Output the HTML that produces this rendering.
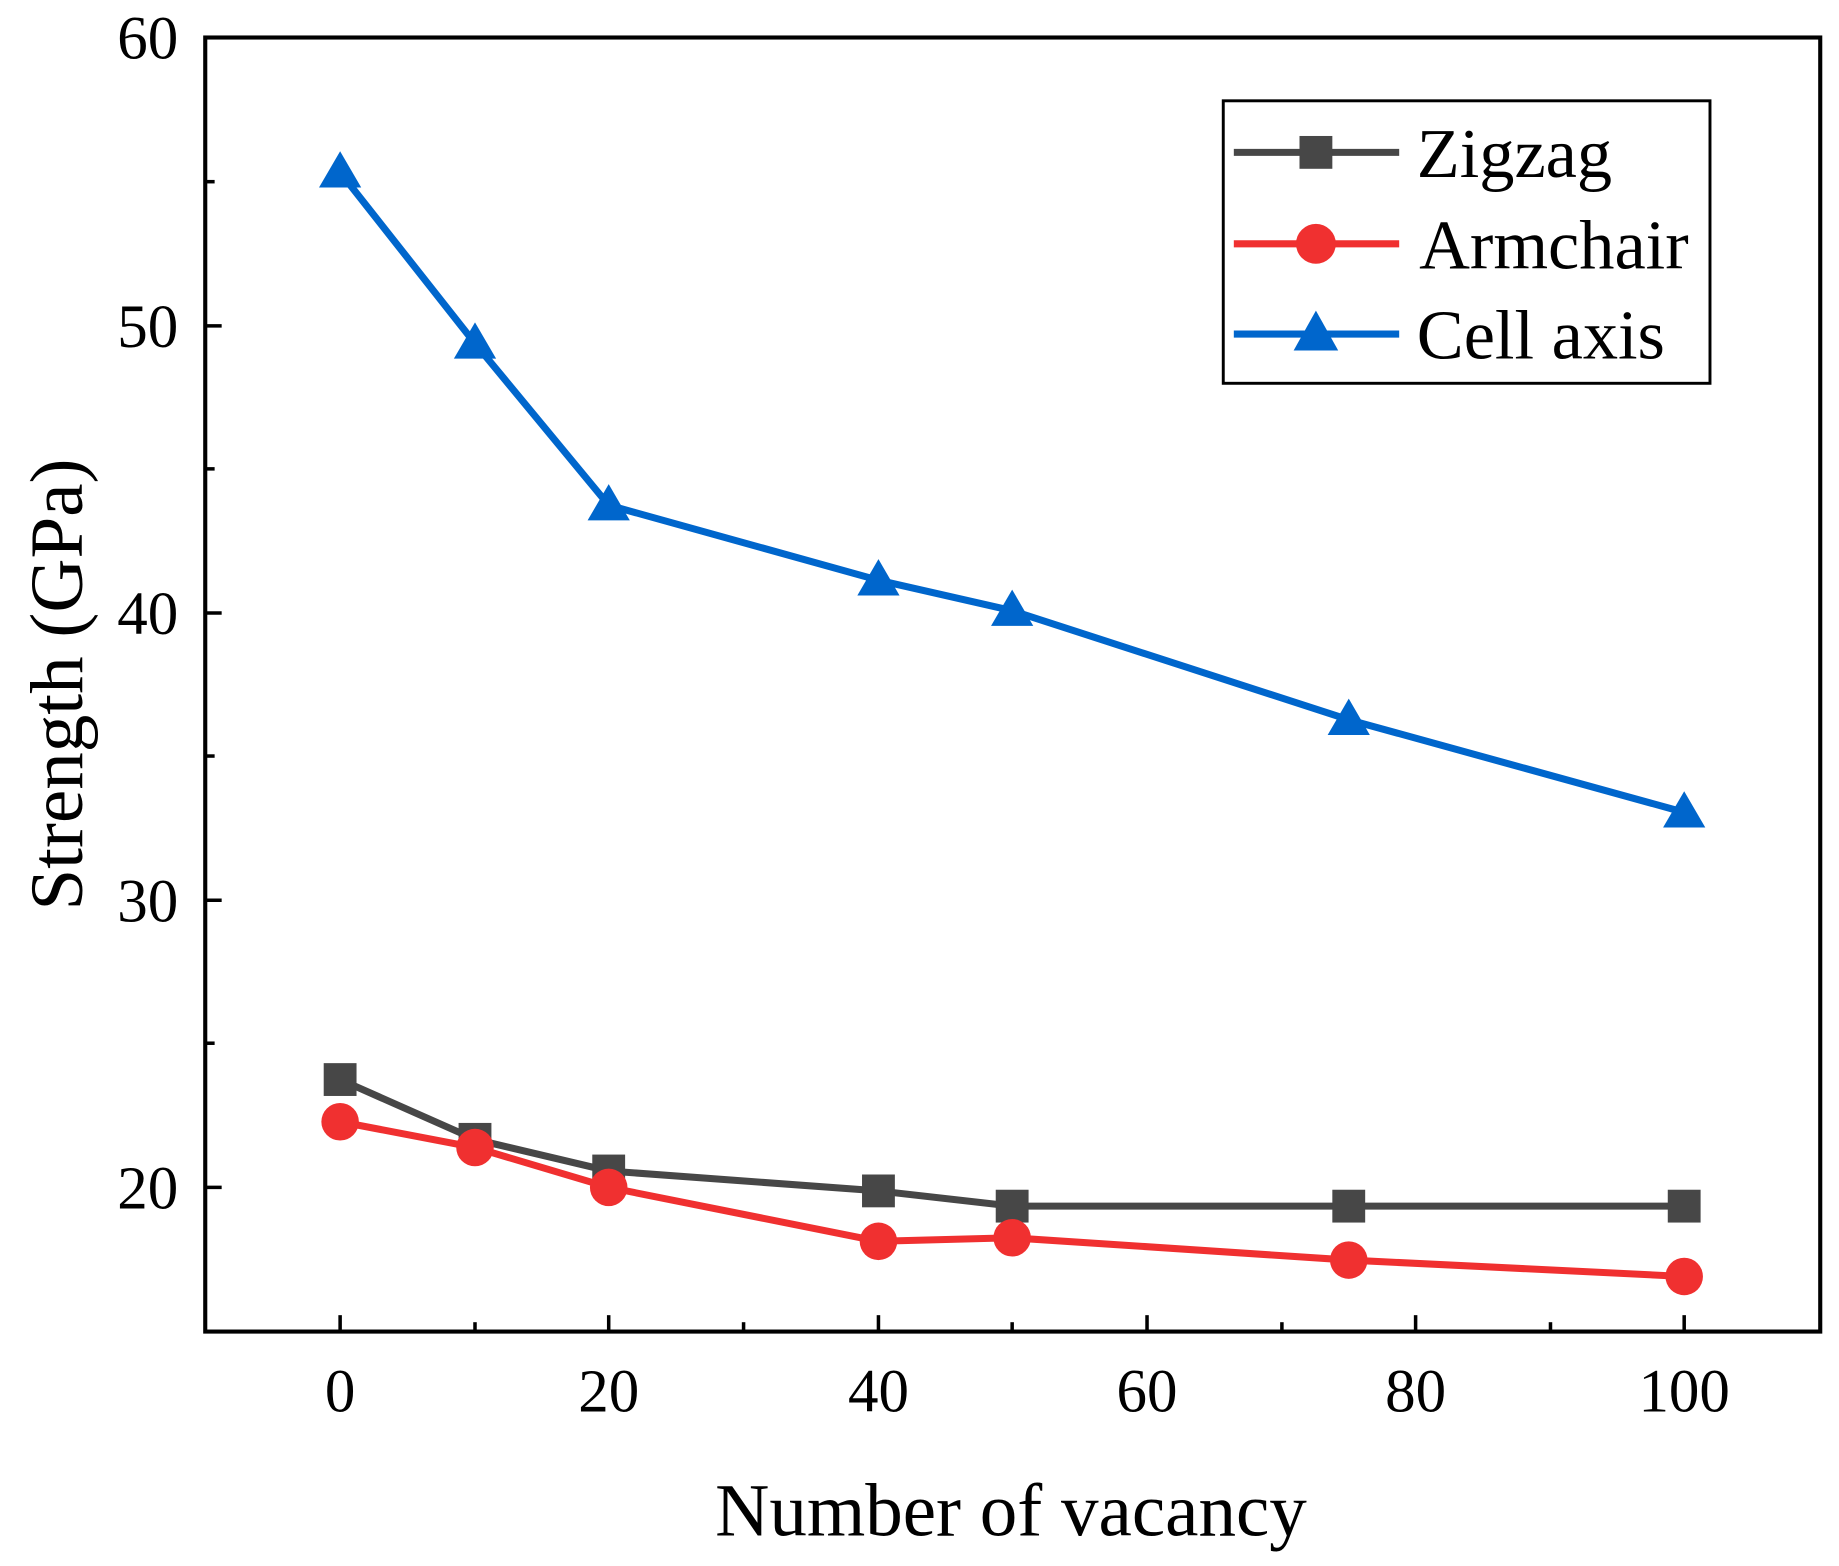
<!DOCTYPE html>
<html><head><style>html,body{margin:0;padding:0;background:#fff}svg{display:block}</style></head>
<body>
<svg width="1839" height="1566" viewBox="0 0 1568 1336" preserveAspectRatio="none" xmlns="http://www.w3.org/2000/svg" font-family="Liberation Serif, serif">
<rect width="1568" height="1336" fill="#fff"/>
<g stroke="#000" stroke-width="3">
<line x1="290" y1="1136" x2="290" y2="1122"/><line x1="519" y1="1136" x2="519" y2="1122"/><line x1="749" y1="1136" x2="749" y2="1122"/><line x1="978" y1="1136" x2="978" y2="1122"/><line x1="1207" y1="1136" x2="1207" y2="1122"/><line x1="1436" y1="1136" x2="1436" y2="1122"/>
<line x1="405" y1="1136" x2="405" y2="1128"/><line x1="634" y1="1136" x2="634" y2="1128"/><line x1="863" y1="1136" x2="863" y2="1128"/><line x1="1093" y1="1136" x2="1093" y2="1128"/><line x1="1322" y1="1136" x2="1322" y2="1128"/>
<line x1="175" y1="278" x2="189" y2="278"/><line x1="175" y1="523" x2="189" y2="523"/><line x1="175" y1="768" x2="189" y2="768"/><line x1="175" y1="1013" x2="189" y2="1013"/>
<line x1="175" y1="155" x2="183" y2="155"/><line x1="175" y1="400" x2="183" y2="400"/><line x1="175" y1="645" x2="183" y2="645"/><line x1="175" y1="890" x2="183" y2="890"/>
</g>
<rect x="175" y="32" width="1377" height="1104" fill="none" stroke="#000" stroke-width="3.5"/>
<g font-size="52" text-anchor="middle" fill="#000">
<text x="290" y="1204">0</text><text x="519" y="1204">20</text><text x="749" y="1204">40</text><text x="978" y="1204">60</text><text x="1207" y="1204">80</text><text x="1436" y="1204">100</text>
</g>
<g font-size="52" text-anchor="end" fill="#000">
<text x="152" y="50">60</text><text x="152" y="296">50</text><text x="152" y="541">40</text><text x="152" y="786">30</text><text x="152" y="1031">20</text>
</g>
<text x="862" y="1310" font-size="64" text-anchor="middle">Number of vacancy</text>
<text transform="translate(70,584) rotate(-90)" font-size="64" text-anchor="middle">Strength (GPa)</text>
<polyline fill="none" stroke="#0066cc" stroke-width="6" points="290,147 405,293 519,431 749,495 863,521 1150,614 1436,693"/>
<g fill="#0066cc">
<polygon points="290,129 272,160 308,160"/><polygon points="405,275 387,306 423,306"/><polygon points="519,413 501,444 537,444"/><polygon points="749,477 731,508 767,508"/><polygon points="863,503 845,534 881,534"/><polygon points="1150,596 1132,627 1168,627"/><polygon points="1436,675 1418,706 1454,706"/>
</g>
<polyline fill="none" stroke="#474747" stroke-width="6" points="290,921 405,972 519,999 749,1016 863,1029 1150,1029 1436,1029"/>
<g fill="#474747">
<rect x="276" y="907" width="28" height="28"/><rect x="391" y="958" width="28" height="28"/><rect x="505" y="985" width="28" height="28"/><rect x="735" y="1002" width="28" height="28"/><rect x="849" y="1015" width="28" height="28"/><rect x="1136" y="1015" width="28" height="28"/><rect x="1422" y="1015" width="28" height="28"/>
</g>
<polyline fill="none" stroke="#f03030" stroke-width="6" points="290,957 405,979 519,1013 749,1059 863,1056 1150,1075 1436,1089"/>
<g fill="#f03030">
<circle cx="290" cy="957" r="16"/><circle cx="405" cy="979" r="16"/><circle cx="519" cy="1013" r="16"/><circle cx="749" cy="1059" r="16"/><circle cx="863" cy="1056" r="16"/><circle cx="1150" cy="1075" r="16"/><circle cx="1436" cy="1089" r="16"/>
</g>
<rect x="1043" y="86" width="415" height="241" fill="#fff" stroke="#000" stroke-width="2.5"/>
<line x1="1052" y1="130" x2="1193" y2="130" stroke="#474747" stroke-width="6"/>
<rect x="1108" y="116" width="28" height="28" fill="#474747"/>
<line x1="1052" y1="208" x2="1193" y2="208" stroke="#f03030" stroke-width="6"/>
<circle cx="1122" cy="208" r="17" fill="#f03030"/>
<line x1="1052" y1="285" x2="1193" y2="285" stroke="#0066cc" stroke-width="6"/>
<polygon points="1122,265 1103,299 1141,299" fill="#0066cc"/>
<g font-size="60" fill="#000">
<text x="1208" y="151">Zigzag</text><text x="1210" y="229">Armchair</text><text x="1208" y="306">Cell axis</text>
</g>
</svg>
</body></html>
